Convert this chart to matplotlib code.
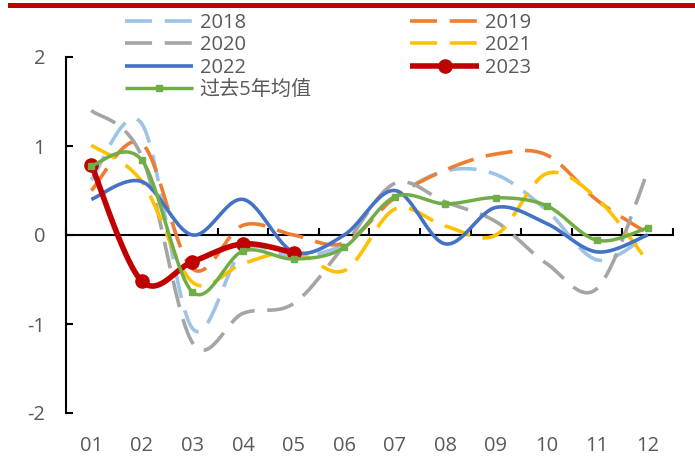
import numpy as np
import matplotlib.pyplot as plt
from matplotlib.lines import Line2D

plt.rcParams['font.family'] = ['Open Sans', 'Noto Sans CJK SC', 'DejaVu Sans']

months = ['01', '02', '03', '04', '05', '06', '07', '08', '09', '10', '11', '12']
s2018 = [0.62, 1.25, -1.05, -0.17, -0.24, -0.10, 0.42, 0.72, 0.68, 0.28, -0.28, 0.00]
s2019 = [0.50, 1.03, -0.38, 0.11, 0.00, -0.09, 0.42, 0.73, 0.91, 0.90, 0.39, 0.02]
s2020 = [1.40, 0.88, -1.21, -0.88, -0.77, -0.12, 0.58, 0.37, 0.15, -0.32, -0.60, 0.71]
s2021 = [1.01, 0.60, -0.53, -0.32, -0.19, -0.40, 0.29, 0.10, 0.00, 0.69, 0.41, -0.30]
s2022 = [0.40, 0.60, 0.00, 0.40, -0.19, 0.00, 0.50, -0.10, 0.31, 0.13, -0.19, 0.00]
s2023 = [0.79, -0.52, -0.30, -0.10, -0.20]
avg5 = [0.78, 0.84, -0.64, -0.18, -0.27, -0.14, 0.43, 0.35, 0.42, 0.33, -0.06, 0.08]

TXT = '#595959'
NSEG = 30


def smooth(y):
    # Excel-like smoothed line: cubic bezier with catmull-rom control points
    x = np.arange(1, len(y) + 1, dtype=float)
    p = np.column_stack([x, np.asarray(y, dtype=float)])
    n = len(p)
    t = np.linspace(0, 1, NSEG + 1)[:, None]
    out = [p[:1]]
    for i in range(n - 1):
        p0 = p[max(i - 1, 0)]
        p1, p2 = p[i], p[i + 1]
        p3 = p[min(i + 2, n - 1)]
        c1 = p1 + (p2 - p0) / 6
        c2 = p2 - (p3 - p1) / 6
        seg = ((1 - t) ** 3 * p1 + 3 * (1 - t) ** 2 * t * c1
               + 3 * (1 - t) * t ** 2 * c2 + t ** 3 * p2)
        out.append(seg[1:])
    pts = np.vstack(out)
    return pts[:, 0], pts[:, 1]


fig = plt.figure(figsize=(6.95, 4.62), dpi=100)
ax = fig.add_axes([66 / 695, 49 / 462, 607 / 695, 356 / 462])

dash = (7.5, 3.5)
series = [
    ('2018', s2018, dict(color='#9DC3E6', lw=2.6, dashes=dash)),
    ('2019', s2019, dict(color='#ED7D31', lw=2.6, dashes=dash)),
    ('2020', s2020, dict(color='#A5A5A5', lw=2.6, dashes=dash)),
    ('2021', s2021, dict(color='#FFC000', lw=2.6, dashes=dash)),
    ('2022', s2022, dict(color='#4472C4', lw=2.6)),
    ('2023', s2023, dict(color='#C00000', lw=4.0, marker='o', markersize=9.5)),
    ('过去5年均值', avg5, dict(color='#70AD47', lw=2.5, marker='s', markersize=5)),
]

handles = {}
for name, vals, kw in series:
    xs, ys = smooth(vals)
    if 'marker' in kw:
        kw = dict(kw, markevery=list(range(0, len(xs), NSEG)))
    ln, = ax.plot(xs, ys, label=name, solid_capstyle='butt', dash_capstyle='butt', **kw)
    handles[name] = ln

ax.set_xlim(0.5, 12.5)
ax.set_ylim(-2, 2)
ax.spines['top'].set_visible(False)
ax.spines['right'].set_visible(False)
ax.spines['bottom'].set_position(('data', 0))
ax.spines['bottom'].set_linewidth(1.5)
ax.spines['left'].set_linewidth(1.5)
ax.spines['bottom'].set_zorder(1)

ax.set_yticks([-2, -1, 0, 1, 2])
ax.set_yticklabels(['-2', '-1', '0', '1', '2'])
ax.tick_params(axis='y', direction='in', length=5, width=1.5, pad=15,
               labelsize=14.5, labelcolor=TXT)
ax.set_xticks(np.arange(0.5, 13, 1))
ax.tick_params(axis='x', direction='in', length=5, width=1.5, labelbottom=False)

for i, m in enumerate(months):
    ax.text(i + 1, -0.092, m, transform=ax.get_xaxis_transform(), ha='center', va='center',
            fontsize=14.5, color=TXT)

order = ['2018', '2020', '2022', '过去5年均值', '2019', '2021', '2023']
leg = fig.legend([handles[k] for k in order], order, ncol=2, loc='upper left',
                 bbox_to_anchor=(125 / 695, 1 - 13 / 462), frameon=False,
                 fontsize=14.5, labelcolor=TXT, handlelength=3.4, handletextpad=0.3,
                 columnspacing=4.9, labelspacing=0.12, borderpad=0, borderaxespad=0,
                 numpoints=1)

fig.add_artist(Line2D([10 / 695, 1.0], [1 - 5 / 462, 1 - 5 / 462], color='#C00000', lw=3.6,
                      transform=fig.transFigure))

fig.savefig('out.png', dpi=100)
